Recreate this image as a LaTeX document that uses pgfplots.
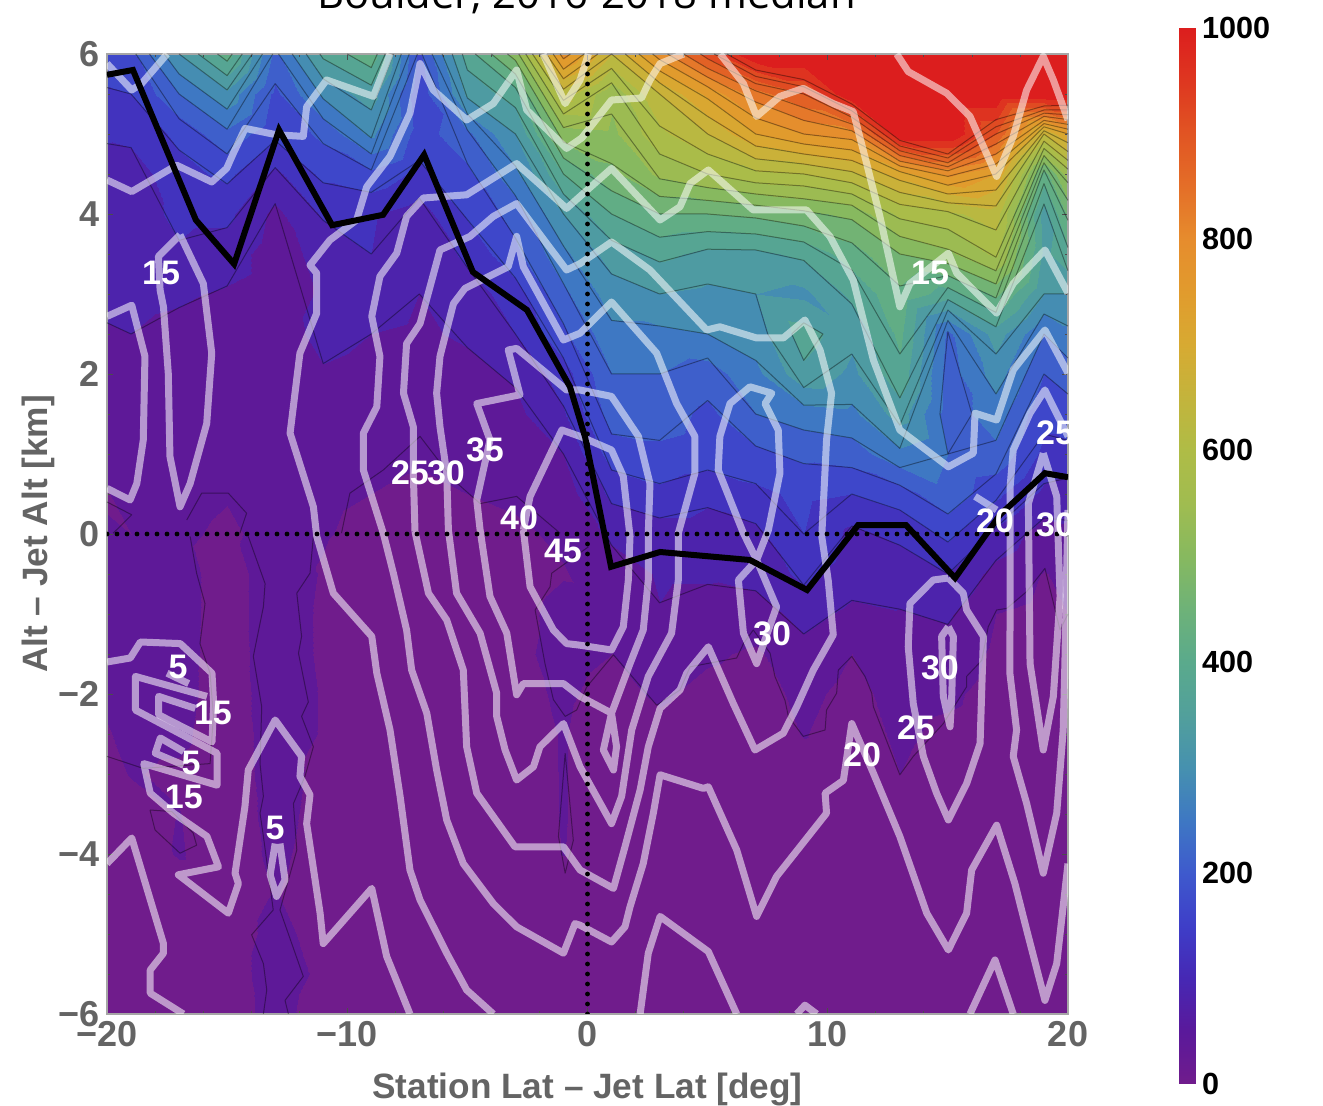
\documentclass[border=0pt]{standalone}
\usepackage{fontspec}
\usepackage{pgfplots}
\pgfplotsset{compat=1.18}
\setmainfont{Liberation Sans}
\newfontfamily\titlefont{Open Sans}
\definecolor{axgray}{RGB}{100,100,100}
\tikzset{lab/.style={white, font=\bfseries\fontsize{17}{18}\selectfont, inner sep=0pt}}
\pgfplotsset{
  colormap={jet2}{
    rgb255(0)=(112,28,140) rgb255(50)=(90,25,155) rgb255(100)=(70,40,180) rgb255(150)=(62,62,200)
    rgb255(200)=(62,90,205) rgb255(250)=(62,120,195) rgb255(300)=(70,145,175) rgb255(350)=(82,160,155)
    rgb255(400)=(90,170,140) rgb255(450)=(110,178,120) rgb255(500)=(135,185,95) rgb255(550)=(160,188,80)
    rgb255(600)=(175,188,70) rgb255(650)=(195,180,60) rgb255(700)=(215,170,50) rgb255(750)=(225,155,45)
    rgb255(800)=(230,140,45) rgb255(850)=(228,110,40) rgb255(900)=(225,85,35) rgb255(950)=(222,55,32)
    rgb255(1000)=(220,30,30)},
  wl/.style={white, opacity=0.55, line width=3.5pt, line join=round, no markers},
  tl/.style={black, opacity=0.38, line width=0.5pt, line join=round, no markers},
}
\begin{document}
\begin{tikzpicture}
\useasboundingbox (0,0) rectangle (661.5pt,553pt);
\begin{axis}[
  at={(53.5pt,46pt)}, anchor=south west, scale only axis, width=480.5pt, height=480pt,
  xmin=-20, xmax=20, ymin=-6, ymax=6, view={0}{90},
  xtick=\empty, ytick=\empty, axis line style={draw=none},
  colormap name=jet2, point meta min=0, point meta max=1000,
]
\addplot3[contour filled={levels={0,40,80,120,160,200,240,280,320,360,400,440,480,520,560,600,640,680,720,760,800,840,880,920,960,1000}}, mesh/rows=25, mesh/cols=22] coordinates {
(-20,-6,20)(-19,-6,20)(-17,-6,20)(-15,-6,20)(-13,-6,55)(-11,-6,20)(-9,-6,20)(-7,-6,20)(-5,-6,20)(-3,-6,20)(-1,-6,20)(1,-6,20)(3,-6,20)(5,-6,20)(7,-6,20)(9,-6,20)(11,-6,20)(13,-6,20)(15,-6,20)(17,-6,20)(19,-6,20)(20,-6,20)
(-20,-5.5,20)(-19,-5.5,20)(-17,-5.5,20)(-15,-5.5,20)(-13,-5.5,60)(-11,-5.5,32)(-9,-5.5,20)(-7,-5.5,20)(-5,-5.5,20)(-3,-5.5,20)(-1,-5.5,20)(1,-5.5,20)(3,-5.5,20)(5,-5.5,20)(7,-5.5,20)(9,-5.5,20)(11,-5.5,20)(13,-5.5,20)(15,-5.5,20)(17,-5.5,20)(19,-5.5,20)(20,-5.5,20)
(-20,-5,20)(-19,-5,20)(-17,-5,20)(-15,-5,20)(-13,-5,52)(-11,-5,25)(-9,-5,20)(-7,-5,20)(-5,-5,20)(-3,-5,20)(-1,-5,20)(1,-5,20)(3,-5,20)(5,-5,20)(7,-5,20)(9,-5,20)(11,-5,20)(13,-5,20)(15,-5,20)(17,-5,20)(19,-5,20)(20,-5,20)
(-20,-4.5,20)(-19,-4.5,20)(-17,-4.5,22)(-15,-4.5,20)(-13,-4.5,42)(-11,-4.5,20)(-9,-4.5,20)(-7,-4.5,20)(-5,-4.5,20)(-3,-4.5,20)(-1,-4.5,20)(1,-4.5,20)(3,-4.5,20)(5,-4.5,20)(7,-4.5,20)(9,-4.5,20)(11,-4.5,20)(13,-4.5,20)(15,-4.5,20)(17,-4.5,20)(19,-4.5,20)(20,-4.5,20)
(-20,-4,20)(-19,-4,20)(-17,-4,43)(-15,-4,20)(-13,-4,48)(-11,-4,25)(-9,-4,20)(-7,-4,20)(-5,-4,20)(-3,-4,20)(-1,-4,41)(1,-4,20)(3,-4,20)(5,-4,20)(7,-4,20)(9,-4,20)(11,-4,20)(13,-4,20)(15,-4,20)(17,-4,20)(19,-4,20)(20,-4,20)
(-20,-3.5,22)(-19,-3.5,25)(-17,-3.5,41)(-15,-3.5,20)(-13,-3.5,52)(-11,-3.5,28)(-9,-3.5,20)(-7,-3.5,20)(-5,-3.5,20)(-3,-3.5,20)(-1,-3.5,42)(1,-3.5,20)(3,-3.5,20)(5,-3.5,20)(7,-3.5,20)(9,-3.5,20)(11,-3.5,20)(13,-3.5,25)(15,-3.5,20)(17,-3.5,20)(19,-3.5,20)(20,-3.5,20)
(-20,-3,30)(-19,-3,42)(-17,-3,35)(-15,-3,20)(-13,-3,55)(-11,-3,30)(-9,-3,20)(-7,-3,20)(-5,-3,20)(-3,-3,20)(-1,-3,42)(1,-3,20)(3,-3,20)(5,-3,20)(7,-3,20)(9,-3,25)(11,-3,20)(13,-3,40)(15,-3,20)(17,-3,20)(19,-3,20)(20,-3,20)
(-20,-2.5,38)(-19,-2.5,48)(-17,-2.5,47)(-15,-2.5,22)(-13,-2.5,55)(-11,-2.5,38)(-9,-2.5,20)(-7,-2.5,20)(-5,-2.5,20)(-3,-2.5,25)(-1,-2.5,42)(1,-2.5,22)(3,-2.5,30)(5,-2.5,20)(7,-2.5,20)(9,-2.5,42)(11,-2.5,20)(13,-2.5,48)(15,-2.5,30)(17,-2.5,20)(19,-2.5,20)(20,-2.5,20)
(-20,-2,45)(-19,-2,50)(-17,-2,50)(-15,-2,25)(-13,-2,55)(-11,-2,38)(-9,-2,20)(-7,-2,20)(-5,-2,20)(-3,-2,30)(-1,-2,45)(1,-2,30)(3,-2,45)(5,-2,30)(7,-2,25)(9,-2,50)(11,-2,28)(13,-2,55)(15,-2,48)(17,-2,25)(19,-2,22)(20,-2,25)
(-20,-1.5,45)(-19,-1.5,50)(-17,-1.5,50)(-15,-1.5,27)(-13,-1.5,55)(-11,-1.5,36)(-9,-1.5,20)(-7,-1.5,20)(-5,-1.5,20)(-3,-1.5,33)(-1,-1.5,50)(1,-1.5,40)(3,-1.5,60)(5,-1.5,45)(7,-1.5,35)(9,-1.5,65)(11,-1.5,40)(13,-1.5,65)(15,-1.5,65)(17,-1.5,32)(19,-1.5,28)(20,-1.5,30)
(-20,-1,45)(-19,-1,50)(-17,-1,50)(-15,-1,28)(-13,-1,55)(-11,-1,36)(-9,-1,22)(-7,-1,20)(-5,-1,20)(-3,-1,30)(-1,-1,50)(1,-1,48)(3,-1,78)(5,-1,65)(7,-1,60)(9,-1,95)(11,-1,70)(13,-1,78)(15,-1,85)(17,-1,40)(19,-1,30)(20,-1,40)
(-20,-0.5,45)(-19,-0.5,50)(-17,-0.5,50)(-15,-0.5,28)(-13,-0.5,55)(-11,-0.5,38)(-9,-0.5,25)(-7,-0.5,22)(-5,-0.5,22)(-3,-0.5,25)(-1,-0.5,38)(1,-0.5,55)(3,-0.5,85)(5,-0.5,85)(7,-0.5,95)(9,-0.5,130)(11,-0.5,100)(13,-0.5,95)(15,-0.5,120)(17,-0.5,65)(19,-0.5,38)(20,-0.5,50)
(-20,0,42)(-19,0,40)(-17,0,45)(-15,0,35)(-13,0,50)(-11,0,42)(-9,0,33)(-7,0,30)(-5,0,33)(-3,0,35)(-1,0,45)(1,0,90)(3,0,100)(5,0,100)(7,0,110)(9,0,160)(11,0,110)(13,0,130)(15,0,170)(17,0,110)(19,0,60)(20,0,70)
(-20,0.5,38)(-19,0.5,55)(-17,0.5,50)(-15,0.5,42)(-13,0.5,45)(-11,0.5,45)(-9,0.5,40)(-7,0.5,35)(-5,0.5,40)(-3,0.5,45)(-1,0.5,60)(1,0.5,130)(3,0.5,150)(5,0.5,130)(7,0.5,150)(9,0.5,170)(11,0.5,160)(13,0.5,180)(15,0.5,230)(17,0.5,170)(19,0.5,110)(20,0.5,100)
(-20,1,55)(-19,1,60)(-17,1,55)(-15,1,50)(-13,1,47)(-11,1,50)(-9,1,47)(-7,1,43)(-5,1,45)(-3,1,55)(-1,1,80)(1,1,180)(3,1,190)(5,1,180)(7,1,190)(9,1,210)(11,1,220)(13,1,270)(15,1,240)(17,1,230)(19,1,150)(20,1,150)
(-20,1.5,62)(-19,1.5,65)(-17,1.5,60)(-15,1.5,50)(-13,1.5,50)(-11,1.5,60)(-9,1.5,55)(-7,1.5,50)(-5,1.5,55)(-3,1.5,70)(-1,1.5,115)(1,1.5,220)(3,1.5,220)(5,1.5,190)(7,1.5,240)(9,1.5,260)(11,1.5,270)(13,1.5,340)(15,1.5,220)(17,1.5,260)(19,1.5,170)(20,1.5,180)
(-20,2,70)(-19,2,70)(-17,2,65)(-15,2,55)(-13,2,52)(-11,2,75)(-9,2,65)(-7,2,60)(-5,2,70)(-3,2,85)(-1,2,140)(1,2,240)(3,2,240)(5,2,220)(7,2,270)(9,2,350)(11,2,310)(13,2,390)(15,2,220)(17,2,300)(19,2,200)(20,2,220)
(-20,2.5,78)(-19,2.5,80)(-17,2.5,70)(-15,2.5,60)(-13,2.5,55)(-11,2.5,95)(-9,2.5,80)(-7,2.5,75)(-5,2.5,85)(-3,2.5,120)(-1,2.5,190)(1,2.5,270)(3,2.5,270)(5,2.5,280)(7,2.5,300)(9,2.5,380)(11,2.5,330)(13,2.5,410)(15,2.5,230)(17,2.5,340)(19,2.5,240)(20,2.5,270)
(-20,3,85)(-19,3,90)(-17,3,85)(-15,3,75)(-13,3,60)(-11,3,85)(-9,3,95)(-7,3,80)(-5,3,100)(-3,3,140)(-1,3,230)(1,3,300)(3,3,320)(5,3,310)(7,3,320)(9,3,310)(11,3,370)(13,3,430)(15,3,380)(17,3,450)(19,3,320)(20,3,320)
(-20,3.5,90)(-19,3.5,95)(-17,3.5,115)(-15,3.5,100)(-13,3.5,60)(-11,3.5,95)(-9,3.5,120)(-7,3.5,85)(-5,3.5,130)(-3,3.5,190)(-1,3.5,270)(1,3.5,340)(3,3.5,370)(5,3.5,350)(7,3.5,350)(9,3.5,370)(11,3.5,420)(13,3.5,480)(15,3.5,510)(17,3.5,570)(19,3.5,350)(20,3.5,390)
(-20,4,95)(-19,4,100)(-17,4,130)(-15,4,130)(-13,4,70)(-11,4,125)(-9,4,125)(-7,4,100)(-5,4,165)(-3,4,215)(-1,4,320)(1,4,400)(3,4,440)(5,4,440)(7,4,450)(9,4,470)(11,4,490)(13,4,570)(15,4,590)(17,4,620)(19,4,340)(20,4,450)
(-20,4.5,105)(-19,4.5,100)(-17,4.5,145)(-15,4.5,170)(-13,4.5,110)(-11,4.5,170)(-9,4.5,190)(-7,4.5,150)(-5,4.5,190)(-3,4.5,270)(-1,4.5,400)(1,4.5,470)(3,4.5,530)(5,4.5,560)(7,4.5,590)(9,4.5,600)(11,4.5,630)(13,4.5,700)(15,4.5,770)(17,4.5,720)(19,4.5,420)(20,4.5,540)
(-20,5,125)(-19,5,130)(-17,5,170)(-15,5,230)(-13,5,170)(-11,5,210)(-9,5,290)(-7,5,180)(-5,5,230)(-3,5,320)(-1,5,500)(1,5,510)(3,5,590)(5,5,640)(7,5,720)(9,5,760)(11,5,780)(13,5,1010)(15,5,1150)(17,5,880)(19,5,640)(20,5,720)
(-20,5.5,155)(-19,5.5,160)(-17,5.5,240)(-15,5.5,310)(-13,5.5,190)(-11,5.5,290)(-9,5.5,340)(-7,5.5,170)(-5,5.5,330)(-3,5.5,380)(-1,5.5,620)(1,5.5,530)(3,5.5,640)(5,5.5,730)(7,5.5,820)(9,5.5,880)(11,5.5,1020)(13,5.5,1080)(15,5.5,1200)(17,5.5,1100)(19,5.5,1100)(20,5.5,1050)
(-20,6,180)(-19,6,190)(-17,6,320)(-15,6,420)(-13,6,230)(-11,6,370)(-9,6,430)(-7,6,190)(-5,6,380)(-3,6,500)(-1,6,780)(1,6,640)(3,6,780)(5,6,900)(7,6,1050)(9,6,1100)(11,6,1200)(13,6,1200)(15,6,1200)(17,6,1200)(19,6,1200)(20,6,1200)
};
\end{axis}
\begin{axis}[
  at={(589.5pt,11pt)}, anchor=south west, scale only axis, width=8pt, height=528pt,
  xmin=0, xmax=1, ymin=0, ymax=1000, view={0}{90},
  xtick=\empty, ytick={0,200,400,600,800,1000}, yticklabel pos=right,
  tick style={draw=none}, axis line style={draw=none},
  colormap name=jet2, point meta min=0, point meta max=1000,
  /pgf/number format/1000 sep={},
  yticklabel style={font=\bfseries\fontsize{15.3}{17}\selectfont, /pgf/number format/assume math mode=true, black, anchor=west},
]
\addplot3[surf, shader=interp, mesh/rows=21, mesh/cols=2] coordinates {
(0,0,0)(1,0,0)
(0,50,50)(1,50,50)
(0,100,100)(1,100,100)
(0,150,150)(1,150,150)
(0,200,200)(1,200,200)
(0,250,250)(1,250,250)
(0,300,300)(1,300,300)
(0,350,350)(1,350,350)
(0,400,400)(1,400,400)
(0,450,450)(1,450,450)
(0,500,500)(1,500,500)
(0,550,550)(1,550,550)
(0,600,600)(1,600,600)
(0,650,650)(1,650,650)
(0,700,700)(1,700,700)
(0,750,750)(1,750,750)
(0,800,800)(1,800,800)
(0,850,850)(1,850,850)
(0,900,900)(1,900,900)
(0,950,950)(1,950,950)
(0,1000,1000)(1,1000,1000)
};
\end{axis}
\begin{axis}[
  at={(53.5pt,46pt)}, anchor=south west, scale only axis, width=480.5pt, height=480pt,
  xmin=-20, xmax=20, ymin=-6, ymax=6,
  axis line style={color=gray!70,line width=0.6pt},
  xtick={-20,-10,0,10,20}, xticklabels={−20,−10,0,10,20},
  ytick={-6,-4,-2,0,2,4,6}, yticklabels={−6,−4,−2,0,2,4,6},
  minor x tick num=4, minor y tick num=3,
  tick align=inside, tick style={color=gray!60!black, line width=0.4pt},
  major tick length=3pt, minor tick length=1.5pt,
  ticklabel style={text=axgray, font=\bfseries\fontsize{18}{20}\selectfont},
  xlabel={Station Lat – Jet Lat [deg]}, ylabel={Alt – Jet Alt [km]},
  xlabel shift=6.5pt, ylabel shift=-5pt,
  label style={text=axgray, font=\bfseries\fontsize{17.6}{20}\selectfont},
]
% thin contour lines of the background field
\addplot[tl] coordinates {(5.8,6)(7,5.8)(9,5.68)(11,5.375)(13,4.92)(15,4.75)(17,5.18)(19,5.35)(20,5.36)};
\addplot[tl] coordinates {(5.27,6)(7,5.72)(9,5.59)(11,5.29)(13,4.85)(15,4.70)(17,5.09)(19,5.30)(20,5.30)};
\addplot[tl] coordinates {(4.7,6)(5,5.94)(7,5.63)(9,5.5)(11,5.21)(13,4.79)(15,4.64)(17,5)(19,5.26)(20,5.24)};
\addplot[tl] coordinates {(4,6)(5,5.82)(7,5.54)(9,5.33)(11,5.125)(13,4.73)(15,4.59)(17,4.875)(19,5.22)(20,5.18)};
\addplot[tl] coordinates {(3.33,6)(5,5.71)(7,5.4)(9,5.17)(11,5.04)(13,4.66)(15,4.54)(17,4.75)(19,5.17)(20,5.12)};
\addplot[tl] coordinates {(2.71,6)(3,5.93)(5,5.59)(7,5.2)(9,5)(11,4.93)(13,4.6)(15,4.47)(17,4.625)(19,5.13)(20,5.06)};
\addplot[tl] coordinates {(2.14,6)(3,5.79)(5,5.44)(7,5)(9,4.875)(11,4.8)(13,4.53)(15,4.36)(17,4.5)(19,5.09)(20,5)};
\addplot[tl] coordinates {(1.57,6)(3,5.64)(5,5.22)(7,4.85)(9,4.75)(11,4.67)(13,4.42)(15,4.25)(17,4.3)(19,5.04)(20,4.89)};
\addplot[tl] coordinates {(-1.14,6)(-1,5.94)(-.71,6)};
\addplot[tl] coordinates {(-1.43,6)(-1,5.81)(-.14,6)};
\addplot[tl] coordinates {(-1.71,6)(-1,5.69)(.43,6)};
\addplot[tl] coordinates {(-2,6)(-1,5.56)(1,6)(3,5.5)(5,5)(7,4.69)(9,4.625)(11,4.53)(13,4.27)(15,4.14)(17,4.1)(19,5)(20,4.78)};
\addplot[tl] coordinates {(-2.29,6)(-1,5.42)(1,5.82)(3,5.1)(5,4.75)(7,4.54)(9,4.5)(11,4.39)(13,4.12)(15,4.03)(17,3.8)(19,4.91)(20,4.67)};
\addplot[tl] coordinates {(-2.57,6)(-1,5.25)(1,5.64)(3,4.75)(5,4.5)(7,4.39)(9,4.35)(11,4.25)(13,3.94)(15,3.81)(17,3.46)(19,4.82)(20,4.56)};
\addplot[tl] coordinates {(-2.86,6)(-1,5.08)(1,5.25)(3,4.44)(5,4.33)(7,4.25)(9,4.19)(11,4.11)(13,3.72)(15,3.56)(17,3.29)(19,4.73)(20,4.39)};
\addplot[tl] coordinates {(-3.33,6)(-3,5.92)(-1,4.9)(1,4.63)(3,4.22)(5,4.17)(7,4.11)(9,4.04)(11,3.93)(13,3.5)(15,3.38)(17,3.125)(19,4.64)(20,4.17)};
\addplot[tl] coordinates {(-4,6)(-3,5.75)(-1,4.7)(1,4.29)(3,4)(5,4)(7,3.95)(9,3.85)(11,3.64)(13,3.1)(15,3.23)(17,2.95)(19,4.55)(20,3.92)};
\addplot[tl] coordinates {(-4.67,6)(-3,5.58)(-1,4.5)(1,4)(3,3.71)(5,3.78)(7,3.75)(9,3.65)(11,3.3)(13,2.25)(15,3.08)(17,2.77)(19,4.38)(20,3.58)};
\addplot[tl] coordinates {(-5.21,6)(-5,5.8)(-3,5.33)(-1,4.25)(1,3.67)(3,3.4)(5,3.56)(7,3.55)(9,3.42)(11,2.875)(13,1.7)(15,2.93)(17,2.59)(19,4.125)(20,3.29)};
\addplot[tl] coordinates {(8.5,2.5)(9,2.64)(9.8,2.5)(9,2.17)(8.5,2.5)};
\addplot[tl] coordinates {(-5.63,6)(-5,5.45)(-3,5)(-1,4)(1,3.25)(3,3)(5,3.125)(7,3)(7.5,2.5)(9,1.83)(11,2.25)(13,1.36)(15,2.8)(17,2.25)(19,3)(20,3)};
\addplot[tl] coordinates {(-6.05,6)(-5,5.25)(-3,4.6)(-1,3.6)(1,2.67)(3,2.6)(5,2.5)(7,2.17)(9,1.61)(11,1.62)(13,1.07)(15,2.67)(17,1.75)(19,2.75)(20,2.6)};
\addplot[tl] coordinates {(-6.47,6)(-5,5.05)(-3,4.23)(-1,3.13)(1,2)(3,2)(5,2.2)(7,1.5)(9,1.3)(11,1.2)(13,.83)(15,1)(17,1.17)(19,2.5)(20,2.2)};
\addplot[tl] coordinates {(15,1)(14.67,1.5)(15,2.53)(16,1.5)(15,1)};
\addplot[tl] coordinates {(-6.89,6)(-5,4.63)(-3,3.7)(-1,2.63)(1,1.25)(3,1.17)(5,1.67)(7,1.1)(9,.88)(11,.83)(13,.61)(15,.25)(17,.75)(19,2)(20,1.75)};
\addplot[tl] coordinates {(-20,5.58)(-19,5.5)(-17,4.8)(-15,4.375)(-13,4.92)(-11,4.39)(-9,4.27)(-7,4.67)(-5,3.93)(-3,3.2)(-1,2.2)(1,.8)(3,.63)(5,.8)(7,.63)(9,0)(11,.5)(13,.3)(15,-.1)(17,.42)(19,1.25)(20,1.17)};
\addplot[tl] coordinates {(-20,4.88)(-19,4.83)(-17,3.67)(-15,3.83)(-13,4.58)(-11,3.92)(-9,3.5)(-7,4.2)(-5,3.33)(-3,2.5)(-1,1.6)(1,.38)(3,.2)(5,.33)(7,.13)(9,-.64)(11,.1)(13,-.14)(15,-.5)(17,.08)(19,.63)(20,.7)};
\addplot[tl] coordinates {(-20,2.64)(-19,2.5)(-17,2.83)(-15,3.1)(-13,4.13)(-11,2.13)(-9,2.5)(-7,3)(-5,2.33)(-3,1.83)(-1,1)(1,-.14)(3,-.86)(5,-.63)(7,-.71)(9,-1.25)(11,-.83)(13,-.94)(15,-1.13)(17,-.33)(19,.2)(20,.17)};
\addplot[tl] coordinates {(-18.8,6)(-17,5.19)(-15,4.75)(-13,5.63)(-11,4.88)(-9,4.55)(-7.08,6)};
\addplot[tl] coordinates {(-18.23,6)(-17,5.5)(-15,5.06)(-13.1,6)};
\addplot[tl] coordinates {(-12.86,6)(-11,5.19)(-9,4.75)(-7.42,6)};
\addplot[tl] coordinates {(-17.62,6)(-17,5.75)(-15,5.31)(-13.53,6)};
\addplot[tl] coordinates {(-12.29,6)(-11,5.44)(-9,4.95)(-7.75,6)};
\addplot[tl] coordinates {(-17,6)(-15,5.55)(-13.95,6)};
\addplot[tl] coordinates {(-11.71,6)(-11,5.69)(-9,5.3)(-8.08,6)};
\addplot[tl] coordinates {(-16.2,6)(-15,5.73)(-14.37,6)};
\addplot[tl] coordinates {(-11.14,6)(-11,5.94)(-9,5.61)(-8.42,6)};
\addplot[tl] coordinates {(-15.4,6)(-15,5.91)(-14.79,6)};
\addplot[tl] coordinates {(-10,6)(-9,5.83)(-8.75,6)};
% lowest contour
\addplot[tl] coordinates {(-16.54,-.03)(-16.27,-.49)(-15.92,-.87)(-16.13,-1.37)(-15.71,-1.74)(-15.57,-2.28)(-15.71,-2.87)(-18.49,-2.93)(-20,-2.78)};
\addplot[tl] coordinates {(-14.12,-.03)(-13.42,-.62)(-13.49,-.91)(-13.91,-1.53)(-13.56,-2.16)(-13.63,-2.87)(-13.49,-3.28)(-13.63,-3.49)(-13.49,-3.78)(-13.08,-4.7)(-13.98,-5.01)(-13.49,-5.37)(-13.35,-5.7)(-13.49,-6)};
\addplot[tl] coordinates {(-11.41,-.03)(-11.55,-.49)(-12.1,-.74)(-11.9,-1.28)(-12.03,-1.49)(-11.62,-2.1)(-11.9,-2.28)(-11.41,-2.66)(-11.76,-3.03)(-12.24,-3.37)(-12.1,-3.95)(-12.8,-4.7)(-11.83,-5.53)(-12.59,-5.83)(-12.45,-6)};
\addplot[tl] coordinates {(-18.21,-3.45)(-18,-3.7)(-16.96,-3.99)(-16.27,-3.89)(-16.41,-3.74)(-17.3,-3.47)(-18.21,-3.45)};
\addplot[tl] coordinates {(-.93,-2.74)(-1.21,-3.78)(-.93,-4.24)(-.59,-3.83)(-.93,-2.74)};
\addplot[tl] coordinates {(.04,-.16)(-1.49,-.49)(-1.56,-.66)(-2.18,-.95)(-1.77,-1.62)(-1.42,-2.07)(-.93,-2.28)(-.45,-2.2)(-.03,-1.91)(1.08,-1.51)(2.88,-2.14)(3.85,-1.95)(4.27,-1.66)(6.21,-1.55)(6.49,-1.37)(6.9,-1.2)(7.6,-1.49)(7.8,-1.78)(8.22,-2.08)(8.36,-2.28)(8.98,-2.53)(9.89,-2.45)(9.95,-2.2)(10.37,-1.99)(10.44,-1.7)(11,-1.53)(11.55,-1.78)(11.83,-1.99)(11.9,-2.16)(13,-3.01)(13.56,-2.78)(14.81,-2.37)(15.78,-1.91)(15.78,-1.78)(16.41,-1.58)(16.68,-1.16)(17.03,-.95)(17.45,-.93)(18.28,-.72)(19.04,-.43)(19.67,-1.2)(20,-1)};
\addplot[tl] coordinates {(-20,.4)(-18.97,.24)(-19.74,.01)};
\addplot[tl] coordinates {(-16.68,.175)(-16.06,.51)(-14.95,.51)(-14.19,.26)(-14.47,.01)};
\addplot[tl] coordinates {(-10.24,.01)(-9.89,.51)(-8.5,.8)(-6.97,1.22)(-5.58,.675)(-4.47,.38)(-2.95,.47)(-1.14,.01)};
% white contour lines
\addplot[wl] coordinates {(-20,5.88)(-18.97,5.55)(-18.56,5.63)(-17.5,6)};
\addplot[wl] coordinates {(-8.22,6)(-8.91,5.47)(-10.86,5.675)(-11.69,5.34)(-11.83,4.97)(-12.94,4.99)(-14.25,5.07)(-14.74,4.76)(-15.02,4.57)(-15.64,4.40)(-17.1,4.61)(-18.97,4.28)(-20,4.425)};
\addplot[wl] coordinates {(4,6)(3.02,5.88)(2.6,5.675)(2.25,5.45)(1.0,5.425)(-0.24,4.95)(-0.87,4.82)(-2.53,5.3)(-2.95,5.8)(-3.92,5.38)(-5.03,5.175)(-6.42,5.55)(-6.97,5.88)(-7.39,5.26)(-8.22,4.72)(-9.19,4.34)(-9.61,3.925)(-10.72,3.675)(-11.55,3.36)(-11.27,3.26)(-11.27,2.76)(-11.97,2.26)(-12.38,1.26)(-11.41,0.34)(-11.27,-0.03)(-10.58,-0.74)(-8.98,-1.28)(-8.77,-1.74)(-8.22,-2.45)(-7.8,-3.28)(-7.39,-4.2)(-6.97,-4.575)(-5.86,-5.24)(-5.03,-5.7)(-3.92,-6)};
\addplot[wl] coordinates {(5.52,6)(6.49,5.63)(7.04,5.22)(8.01,5.47)(8.98,5.57)(10.23,5.38)(11.06,5.28)(11.62,4.63)(12.17,3.97)(13.0,2.84)(13.42,3.13)(15.02,3.51)(15.37,3.26)(17.03,2.76)(17.72,3.13)(19.04,3.55)(20,3.01)};
\addplot[wl] coordinates {(12.87,6)(13.35,5.78)(14.95,5.51)(15.92,5.22)(17.03,4.47)(17.72,4.97)(18.28,5.55)(18.97,5.97)(19.39,5.675)(20,5.175)};
\addplot[wl] coordinates {(20,2.01)(19.04,2.55)(17.72,2.05)(17.03,1.425)(16.13,1.51)(16.06,1.01)(15.02,.84)(13.0,1.3)(11.9,2.175)(11.06,3.175)(10.09,3.72)(9.12,4.05)(6.9,4.05)(5.03,4.55)(4.27,4.38)(3.85,4.09)(3.02,3.925)(1.0,4.57)(-.31,4.22)(-.87,4.07)(-2.95,4.63)(-5.03,4.24)(-6.83,4.2)(-7.53,3.97)(-7.94,3.51)(-8.64,3.22)(-8.98,2.72)(-8.64,2.22)(-8.77,1.59)(-9.33,1.26)(-9.33,.8)(-8.5,.01)(-8.08,-.49)(-7.53,-1.2)(-7.32,-1.7)(-6.69,-2.24)(-6.28,-2.95)(-5.86,-3.575)(-5.17,-4.12)(-3.92,-4.62)(-2.95,-4.91)(-1.0,-5.24)(-.52,-4.87)(-.31,-4.89)(1.0,-5.1)(1.56,-4.91)(1.77,-4.66)(2.32,-4.12)(2.74,-3.49)(3.02,-3.01)(4.82,-3.18)(5.03,-3.16)(6.21,-3.95)(7.04,-4.78)(7.87,-4.28)(9.95,-3.49)(9.89,-3.24)(10.65,-3.08)(11.0,-2.37)(11.9,-2.99)(13.0,-3.78)(14.12,-4.74)(15.02,-5.2)(15.78,-4.74)(15.99,-4.2)(17.03,-3.64)(17.79,-4.37)(18.28,-4.95)(19.04,-5.83)(19.53,-5.37)(20,-4.12)};
\addplot[wl] coordinates {(-7.18,.03)(-7.25,.76)(-7.25,1.34)(-7.66,1.76)(-7.53,2.38)(-6.97,2.63)(-6.14,3.55)(-4.89,3.72)(-3.92,3.97)(-2.95,4.13)(-.87,3.3)(-.31,3.38)(1.0,3.65)(2.6,3.3)(4.96,2.55)(5.51,2.59)(7.04,2.45)(8.15,2.45)(9.05,2.675)(9.68,2.3)(10.16,1.76)(9.95,1.175)(9.75,-.03)(10.02,-.58)(10.23,-1.26)(9.4,-1.7)(8.71,-2.16)(8.15,-2.49)(6.97,-2.7)(6.07,-2.12)(5.03,-1.41)(4.13,-1.74)(3.85,-1.95)(3.02,-2.18)(2.53,-2.66)(2.19,-3.2)(1.56,-3.91)(1.08,-4.43)(-.31,-4.2)(-1.0,-3.91)(-3.02,-3.91)(-4.61,-3.24)(-5.03,-2.66)(-5.17,-1.7)(-5.86,-1.075)(-6.62,-.74)(-7.18,.03)};
\addplot[wl] coordinates {(-5.79,.05)(-5.86,.76)(-6.14,1.34)(-6.28,1.76)(-6.14,2.22)(-5.58,2.88)(-5.1,3.07)(-3.3,3.34)(-2.95,3.72)(-2.67,3.34)(-1.0,2.425)(-.31,2.51)(1.0,2.9)(2.88,2.26)(3.71,1.63)(4.47,1.22)(4.47,.76)(3.78,.01)(3.78,-.575)(3.5,-1.24)(2.53,-1.78)(1.84,-2.45)(1.42,-3.28)(1.0,-3.62)(-.31,-2.91)(-1,-2.37)(-1.98,-2.66)(-2.25,-2.91)(-2.95,-3.075)(-3.43,-2.7)(-3.78,-2.28)(-3.78,-1.99)(-4.47,-1.24)(-5.45,-.74)(-5.79,.05)};
\addplot[wl] coordinates {(-4.47,.05)(-4.61,.425)(-4.06,1.175)(-4.61,1.63)(-2.81,1.74)(-3.3,2.3)(-2.95,2.32)(-.87,1.8)(-.31,1.8)(1.0,1.72)(2.12,1.22)(2.6,.63)(2.53,.01)(2.53,-.575)(2.32,-1.2)(1.77,-1.62)(1.0,-2.24)(1.21,-2.66)(1.08,-2.95)(.66,-2.7)(1.0,-2.24)(-.31,-2.03)(-1,-1.87)(-2.67,-1.87)(-2.95,-2.01)(-3.36,-1.24)(-4.06,-.78)(-4.47,.05)};
\addplot[wl] coordinates {(-2.67,.05)(-2.39,.47)(-1.07,1.3)(-.31,1.22)(1.0,1.05)(1.49,.72)(1.77,-.03)(1.7,-.575)(1.49,-1.16)(1.0,-1.45)(-.31,-1.39)(-.87,-1.37)(-1.42,-1.2)(-2.39,-.66)(-2.67,.05)};
\addplot[wl] coordinates {(7.04,-.325)(7.87,-.91)(7.04,-1.62)(6.49,-1.24)(6.28,-.575)(7.04,-.325)(7.53,.05)(8.01,.76)(7.94,1.3)(7.39,1.63)(7.67,1.76)(6.76,1.84)(5.93,1.63)(5.51,1.22)(5.44,.8)(6.49,.01)(7.04,-.325)};
\addplot[wl] coordinates {(-16.96,3.74)(-15.99,3.13)(-15.64,2.26)(-15.85,1.38)(-16.54,.63)(-16.96,.34)(-17.38,.97)(-17.45,2.01)(-17.65,2.84)(-17.79,3.05)(-17.86,3.47)(-16.96,3.74)};
\addplot[wl] coordinates {(-20,2.72)(-18.97,2.86)(-18.42,2.22)(-18.49,1.175)(-18.76,.63)(-19.04,.425)(-20,.57)};
\addplot[wl] coordinates {(-20,-1.6)(-19.03,-1.55)(-18.61,-1.35)(-16.95,-1.37)(-15.63,-1.74)(-15.56,-2.12)(-15.63,-2.6)(-17.85,-2.26)(-17.85,-2.03)(-16.32,-2.18)};
\addplot[wl] coordinates {(-16.6,-1.87)(-17.5,-1.74)};
\addplot[wl] coordinates {(-15.84,-2.03)(-18.82,-1.78)(-18.82,-2.2)(-15.42,-2.74)(-15.42,-3.14)(-18.47,-2.87)(-18.2,-3.24)(-17.23,-3.49)(-15.84,-3.78)(-15.36,-4.16)(-17.03,-4.26)(-14.95,-4.74)(-14.53,-4.37)(-14.67,-4.24)(-14.26,-3.41)(-14.12,-2.95)(-13.0,-2.325)(-11.9,-2.78)(-11.97,-3.03)(-11.55,-3.26)(-11.69,-3.62)(-11.13,-4.74)(-11.0,-5.12)(-8.98,-4.43)(-8.36,-5.28)(-7.39,-6)};
\addplot[wl] coordinates {(-16.81,-2.72)(-17.78,-2.55)(-17.99,-2.74)(-16.81,-2.89)};
\addplot[wl] coordinates {(-13.0,-3.87)(-13.21,-4.26)(-12.94,-4.53)(-12.59,-4.325)(-12.8,-3.87)};
\addplot[wl] coordinates {(-20,-4.12)(-18.97,-3.8)(-17.65,-5.12)(-17.65,-5.24)(-18.2,-5.45)(-18.2,-5.74)(-16.82,-6)};
\addplot[wl] coordinates {(2.19,-6)(2.53,-5.24)(3.02,-4.78)(5.03,-5.22)(6.21,-6)};
\addplot[wl] coordinates {(8.71,-6)(9.05,-5.89)(9.54,-6)};
\addplot[wl] coordinates {(15.92,-6)(16.96,-5.325)(17.72,-6)};
\addplot[wl] coordinates {(15.02,-.55)(15.64,-.74)(15.78,-.95)(16.48,-1.28)(16.34,-2.62)(15.78,-3.12)(15.02,-3.575)(14.53,-3.24)(13.98,-2.78)(13.56,-2.12)(13.35,-1.41)(13.42,-.87)(14.39,-.575)(15.02,-.55)};
\addplot[wl] coordinates {(15.02,-1.16)(15.23,-1.28)(15.16,-2.03)(15.09,-2.41)(14.81,-2.03)(14.74,-1.28)(15.02,-1.16)};
\addplot[wl] coordinates {(20,1.22)(19.04,1.8)(18.42,1.51)(17.72,1.05)(17.59,.59)(17.59,-.78)(17.58,-1.74)(17.86,-2.45)(17.72,-2.78)(18.28,-3.37)(18.97,-4.24)(19.53,-3.49)(19.8,-2.45)(19.87,-1.62)(19.95,-.37)(20,.3)};
\addplot[wl] coordinates {(18.97,1.01)(18.35,.38)(18.42,-1.62)(18.97,-2.7)(19.39,-2.03)(19.67,-.78)(19.53,.47)(18.97,1.01)};
\addplot[wl] coordinates {(16.13,.47)(17.03,.3)};
\addplot[wl] coordinates {(-1.84,6)(-.93,5.38)(-.31,5.675)(.04,6)};
% dotted axes
\addplot[black, line width=2.4pt, line cap=round, dash pattern=on 0pt off 5pt] coordinates {(-20,0)(20,0)};
\addplot[black, line width=2.4pt, line cap=round, dash pattern=on 0pt off 5pt] coordinates {(0,-6)(0,6)};
% jet line
\addplot[black, line width=3pt, line join=miter, no markers] coordinates {(-20,5.74)(-18.92,5.8)(-16.3,3.925)(-14.71,3.375)(-12.84,5.05)(-10.63,3.86)(-8.51,3.99)(-6.8,4.74)(-4.77,3.275)(-2.52,2.8)(-0.73,1.84)(-0.1,1.21)(0.98,-0.41)(3.02,-0.225)(6.76,-0.325)(9.14,-0.7)(11.26,0.11)(13.26,0.11)(15.3,-0.55)(17.17,0.24)(19.04,0.76)(20,0.71)};
\node[lab] at (axis cs:-17.75,3.26) {15};
\node[lab] at (axis cs:14.26,3.26) {15};
\node[lab] at (axis cs:-4.27,1.05) {35};
\node[lab] at (axis cs:-7.39,.76) {25};
\node[lab] at (axis cs:-5.89,.76) {30};
\node[lab] at (axis cs:-2.85,.2) {40};
\node[lab] at (axis cs:-1.02,-.21) {45};
\node[lab] at (axis cs:16.96,.16) {20};
\node[lab] at (axis cs:7.68,-1.25) {30};
\node[lab] at (axis cs:14.67,-1.675) {30};
\node[lab] at (axis cs:13.67,-2.425) {25};
\node[lab] at (axis cs:11.43,-2.76) {20};
\node[lab] at (axis cs:-17.04,-1.66) {5};
\node[lab] at (axis cs:-15.59,-2.24) {15};
\node[lab] at (axis cs:-16.5,-2.86) {5};
\node[lab] at (axis cs:-16.8,-3.29) {15};
\node[lab] at (axis cs:-13.0,-3.675) {5};
\begin{scope}
\clip (axis cs:-20,-6) rectangle (axis cs:20,6);
\node[lab] at (axis cs:19.46,1.26) {25};
\node[lab] at (axis cs:19.46,.11) {30};
\end{scope}
\end{axis}
\node[anchor=base, font=\titlefont\fontsize{20.9}{22}\selectfont, inner sep=0pt] at (293.2pt,548.7pt) {Boulder, 2016-2018 median};
\end{tikzpicture}
\end{document}
